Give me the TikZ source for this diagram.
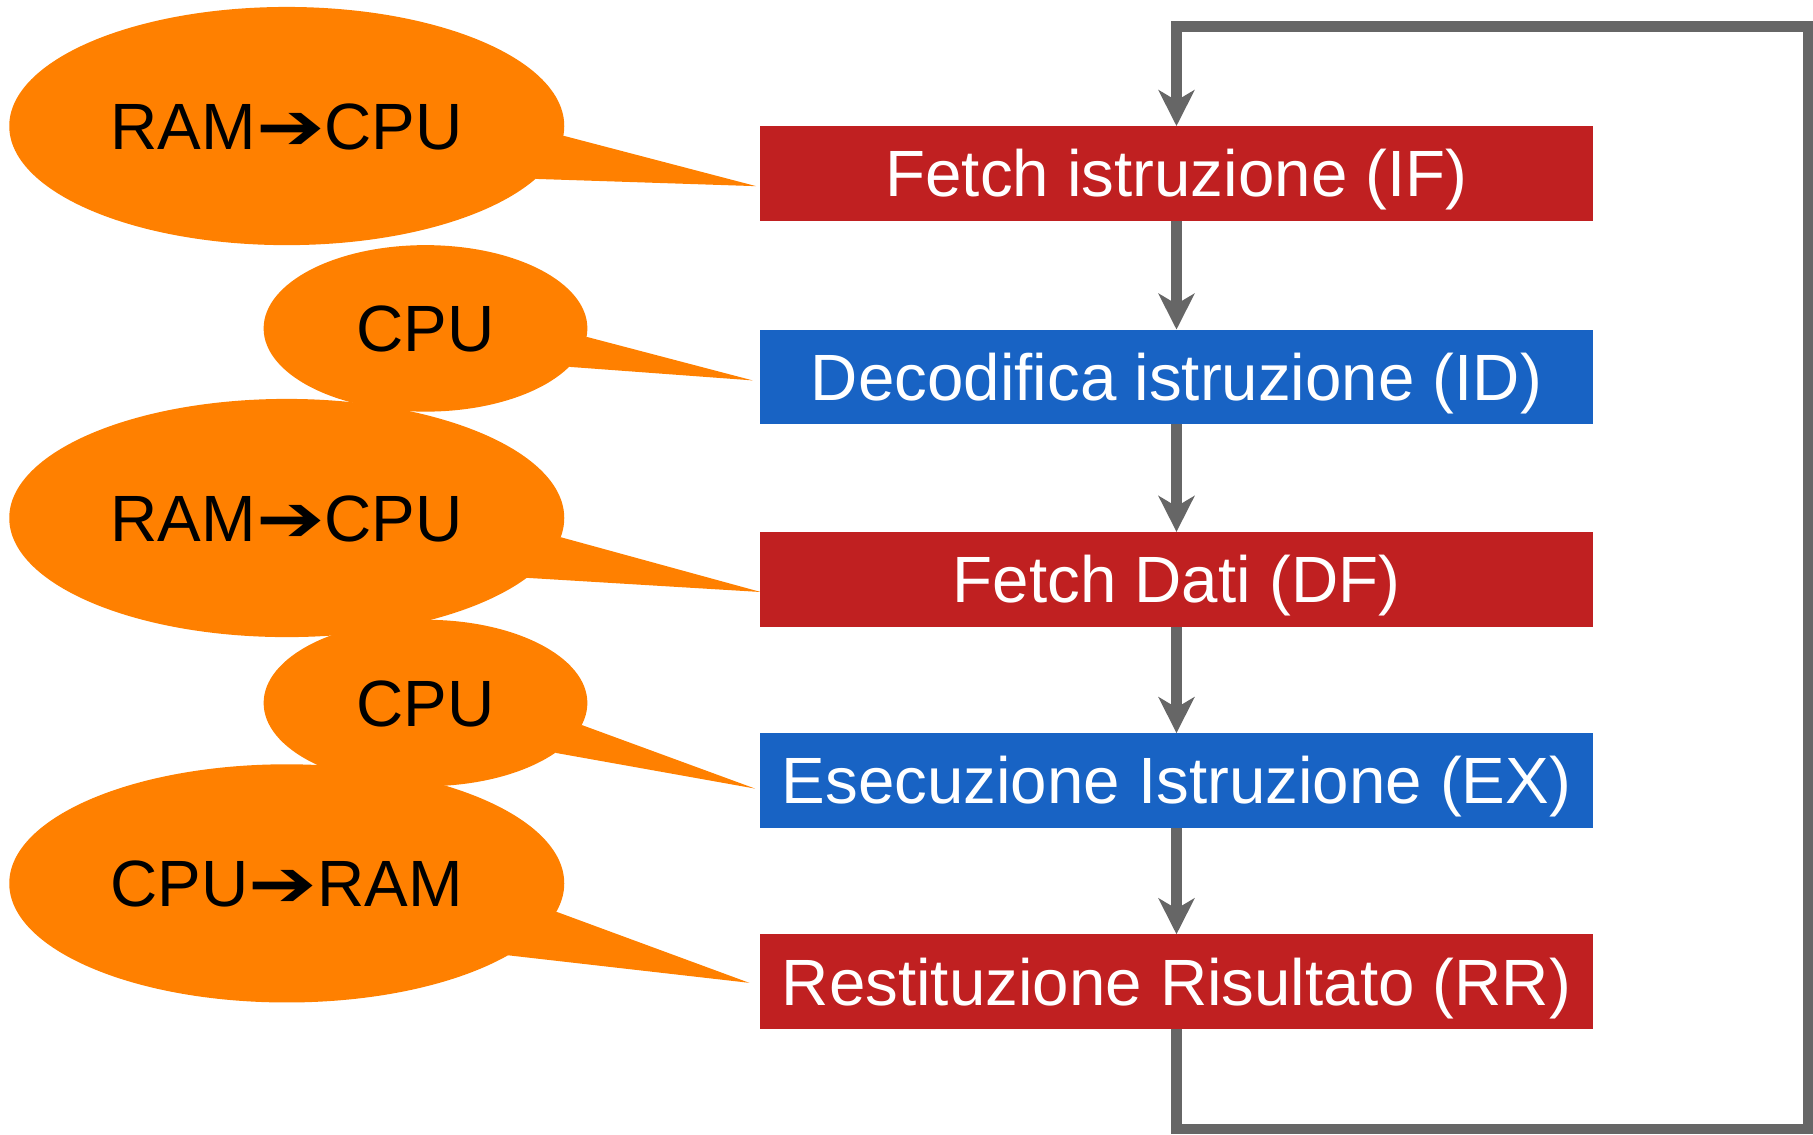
\documentclass[tikz,border=0pt]{standalone}
\usepackage{graphicx}
\usepackage{fontspec}
\setmainfont{Liberation Sans}
\newfontfamily\symfont{DejaVu Sans}
\usetikzlibrary{shapes.geometric,arrows.meta,calc}
\definecolor{stepred}{RGB}{192,32,33}
\definecolor{stepblue}{RGB}{24,99,196}
\definecolor{bubble}{RGB}{255,128,0}
\definecolor{flowgray}{RGB}{102,102,102}
\newcommand\bubblearrow{\scalebox{1.25}[1]{\symfont ➔}}
\begin{document}
\begin{tikzpicture}[x=0.5pt,y=-0.5pt,
  txt/.style={font=\fontsize{28.3}{34}\selectfont, text height=20.3pt, text depth=0pt},
  stepbox/.style={rectangle, inner sep=0pt, outer sep=0pt, minimum width=360pt, minimum height=41pt, text=white, txt},
  redbox/.style={stepbox, fill=stepred},
  bluebox/.style={stepbox, fill=stepblue},
  bubbleL/.style={ellipse, fill=bubble, inner sep=0pt, outer sep=0pt, minimum width=240pt, minimum height=103pt, txt},
  bubbleS/.style={ellipse, fill=bubble, inner sep=0pt, outer sep=0pt, minimum width=140pt, minimum height=72pt, txt},
  tail/.style={fill=bubble},
  flow/.style={draw=flowgray, line width=4.5pt},
  flowarrow/.style={flow, -{Stealth[length=15.5pt,width=15.5pt,inset=4.5pt]}}
]
\useasboundingbox (0,0) rectangle (1568,981);

% bubbles
\node[bubbleL] (e1) at (248,109) {RAM\bubblearrow CPU};
\node[bubbleS] (e2) at (368,284) {CPU};
\node[bubbleL] (e3) at (248,448) {RAM\bubblearrow CPU};
\node[bubbleS] (e4) at (368,608) {CPU};
\node[bubbleL] (e5) at (248,764) {CPU\bubblearrow RAM};

% tail tips
\coordinate (t1) at (654,161);
\coordinate (t2) at (651,329);
\coordinate (t3) at (658,512);
\coordinate (t4) at (653,682);
\coordinate (t5) at (648,850);

\fill[tail] (e1.-2.6) -- (t1) -- (e1.-12.6) -- cycle;
\fill[tail] (e2.-3.7) -- (t2) -- (e2.-15.8) -- cycle;
\fill[tail] (e3.-4.1) -- (t3) -- (e3.-14.6) -- cycle;
\fill[tail] (e4.-8.2) -- (t4) -- (e4.-21.6) -- cycle;
\fill[tail] (e5.-6.9) -- (t5) -- (e5.-18.3) -- cycle;

% steps
\node[redbox]  (IF) at (1017.5,150) {Fetch istruzione (IF)};
\node[bluebox] (ID) at (1017.5,326) {Decodifica istruzione (ID)};
\node[redbox]  (DF) at (1017.5,501) {Fetch Dati (DF)};
\node[bluebox] (EX) at (1017.5,675) {Esecuzione Istruzione (EX)};
\node[redbox]  (RR) at (1017.5,849) {Restituzione Risultato (RR)};

% flow
\draw[flowarrow] (IF) -- (ID);
\draw[flowarrow] (ID) -- (DF);
\draw[flowarrow] (DF) -- (EX);
\draw[flowarrow] (EX) -- (RR);

\coordinate (loopBR) at (1563.5,976.5);
\coordinate (loopTR) at (1563.5,23);
\draw[flowarrow] (RR.south) |- (loopBR) -- (loopTR) -| (IF.north);
\end{tikzpicture}
\end{document}
